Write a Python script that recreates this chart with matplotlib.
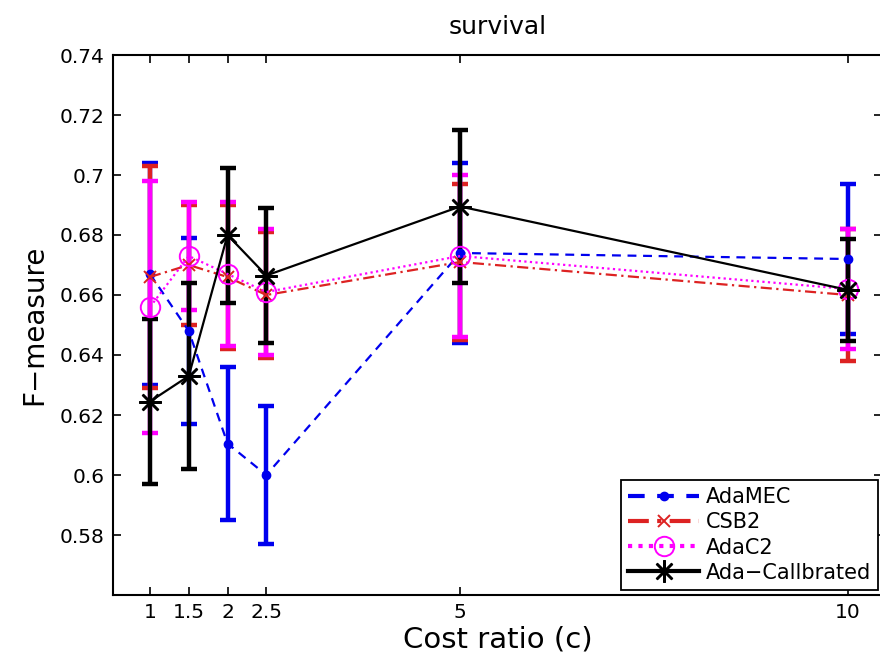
import matplotlib
matplotlib.use("Agg")
import matplotlib.pyplot as plt
import numpy as np

plt.rcParams['font.family'] = ['DejaVu Sans']

cost = [1, 1.5, 2, 2.5, 5, 10]
tick_labels = ['1', '1.5', '2', '2.5', '5', '10']

adamec_mean = [0.667, 0.648, 0.6105, 0.600, 0.674, 0.672]
adamec_err = [0.037, 0.031, 0.0255, 0.023, 0.030, 0.025]

csb2_mean = [0.666, 0.670, 0.666, 0.660, 0.671, 0.660]
csb2_err = [0.037, 0.020, 0.024, 0.021, 0.026, 0.022]

adac2_mean = [0.656, 0.673, 0.667, 0.661, 0.673, 0.662]
adac2_err = [0.042, 0.018, 0.024, 0.021, 0.027, 0.020]

cal_mean = [0.6245, 0.633, 0.680, 0.6665, 0.6895, 0.6617]
cal_err = [0.0275, 0.031, 0.0225, 0.0225, 0.0255, 0.017]

fig = plt.figure(figsize=(8.8, 6.58), dpi=100)
ax = fig.add_axes([113/880, 1-595/658, (882-113)/880, (595-55)/658])

series = [
    ('AdaMEC', adamec_mean, adamec_err, '#0000ee', (0, (4, 3)), 'o', 6, 'full'),
    ('CSB2', csb2_mean, csb2_err, '#dd2222', (0, (5, 2, 1, 2)), 'x', 9, 'none'),
    ('AdaC2', adac2_mean, adac2_err, '#ff00ff', (0, (1, 1.5)), 'o', 14, 'none'),
    ('Ada\u2212Callbrated', cal_mean, cal_err, '#000000', '-', '*', 16, 'none'),
]

handles = []
for name, m, e, c, ls, mk, ms, fill in series:
    ax.errorbar(cost, m, yerr=e, fmt='none', ecolor=c, elinewidth=3.2,
                capsize=6, capthick=3.2, zorder=2)
for name, m, e, c, ls, mk, ms, fill in series:
    if mk == 'o' and fill == 'full':
        h, = ax.plot(cost, m, color=c, linestyle=ls, linewidth=1.6,
                     marker=mk, markersize=ms, markerfacecolor=c,
                     markeredgecolor=c, label=name, zorder=3)
    elif mk == '*':
        h, = ax.plot(cost, m, color=c, linestyle=ls, linewidth=1.6,
                     marker=(8, 2, 0), markersize=ms, markeredgewidth=1.8,
                     markeredgecolor=c, label=name, zorder=4)
    else:
        h, = ax.plot(cost, m, color=c, linestyle=ls, linewidth=1.6,
                     marker=mk, markersize=ms, markerfacecolor='none',
                     markeredgecolor=c, markeredgewidth=1.4, label=name, zorder=3)
    handles.append(h)

ax.set_xlim(0.523, 10.44)
ax.set_ylim(0.56, 0.74)
ax.set_xticks(cost)
ax.set_xticklabels(tick_labels)
yt = [0.58, 0.60, 0.62, 0.64, 0.66, 0.68, 0.70, 0.72, 0.74]
ax.set_yticks(yt)
ax.set_yticklabels(['0.58', '0.6', '0.62', '0.64', '0.66', '0.68', '0.7', '0.72', '0.74'])
ax.tick_params(direction='in', length=6, width=1.2, top=True, right=True,
               labelsize=14.5, pad=6)
for s in ax.spines.values():
    s.set_linewidth(1.5)

ax.set_title('survival', fontsize=18, pad=15)
ax.set_xlabel('Cost ratio (c)', fontsize=21, labelpad=2)
ax.set_ylabel('F\u2212measure', fontsize=20, labelpad=8)

leg = ax.legend(handles=handles, loc='lower right', bbox_to_anchor=(878/880, 1-590/658),
                bbox_transform=fig.transFigure, fontsize=15, frameon=True,
                fancybox=False, edgecolor='black', framealpha=1,
                handlelength=3.4, handletextpad=0.3, borderpad=0.35,
                labelspacing=0.25, borderaxespad=0)
leg.get_frame().set_linewidth(1.3)
for lh in leg.get_lines():
    lh.set_linewidth(3)

fig.savefig('out.png', dpi=100)
